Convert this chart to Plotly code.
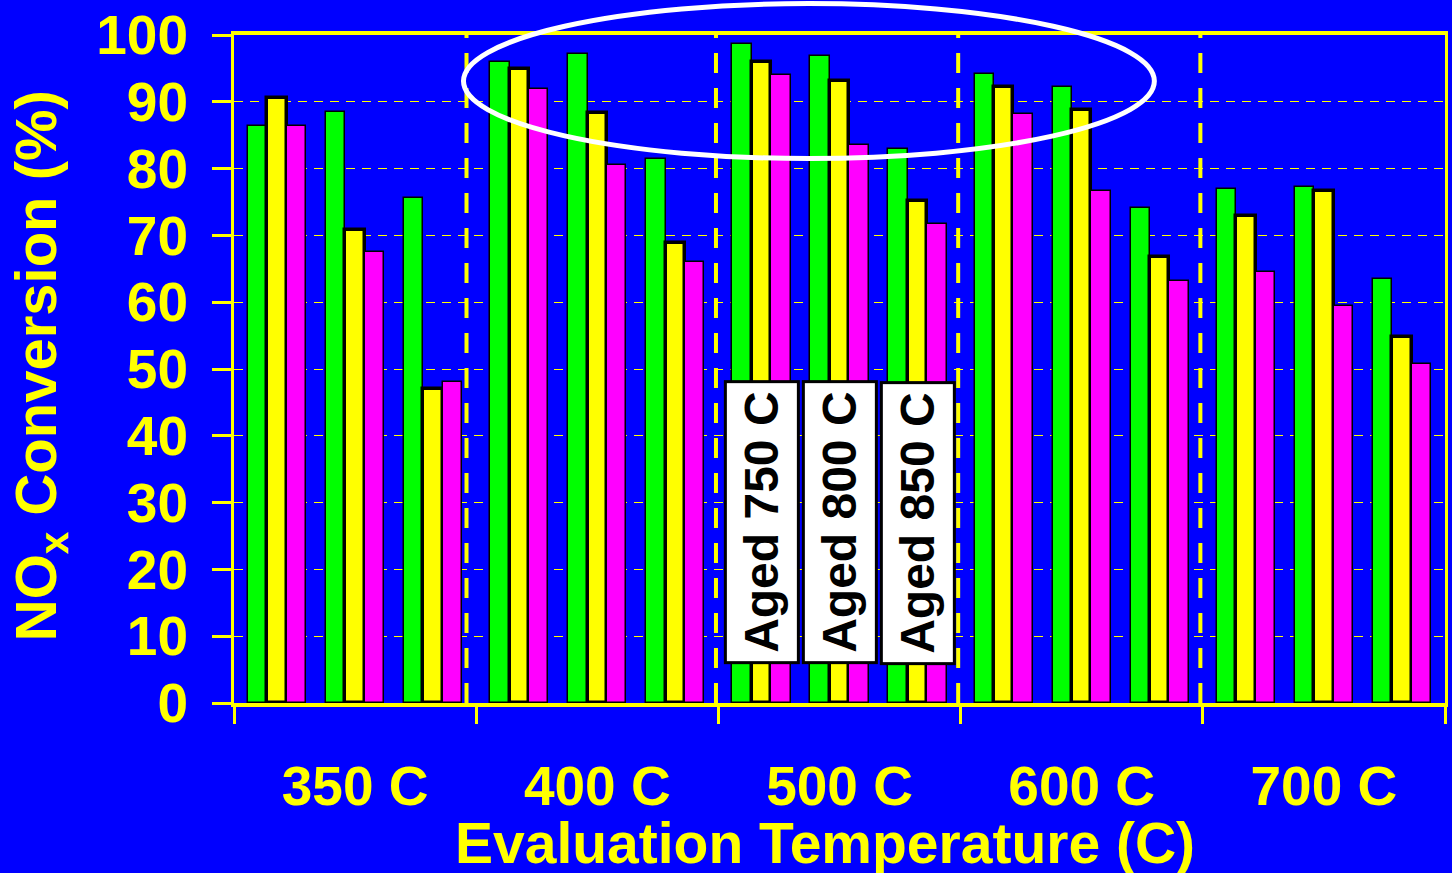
import plotly.graph_objects as go

# ---- data ----
temperatures = ["350 C", "400 C", "500 C", "600 C", "700 C"]
aging = ["Aged 750 C", "Aged 800 C", "Aged 850 C"]
# values ordered: for each evaluation temperature, aged 750 / 800 / 850
green_vals = [86.4, 88.5, 75.6,
              96.0, 97.1, 81.5,
              98.6, 96.9, 82.9,
              94.2, 92.2, 74.1,
              76.9, 77.2, 63.4]
yellow_vals = [90.5, 70.8, 47.0,
               94.9, 88.3, 68.9,
               96.0, 93.1, 75.2,
               92.2, 88.8, 66.8,
               72.9, 76.7, 54.8]
magenta_vals = [86.4, 67.5, 48.1,
                91.9, 80.6, 66.0,
                94.0, 83.5, 71.7,
                88.2, 76.7, 63.1,
                64.5, 59.4, 50.7]
y_ticks = list(range(0, 101, 10))
separators = [0.46, 1.49, 2.49, 3.49]
label_group = 2  # aging labels drawn over the 500 C group
x_title = "Evaluation Temperature (C)"
y_title = "NO<sub>x</sub> Conversion (%)"

# ---- layout constants ----
BLUE = "#0000FF"
YEL = "#FFFF00"
FONT = "Liberation Sans, Arial, sans-serif"
sub_off = 0.322
bar_w = 0.080

series = [
    ("green", "#00FF00", green_vals, -bar_w, 1.5),
    ("yellow", "#FFFF00", yellow_vals, 0.0, 3.5),
    ("magenta", "#FF00FF", magenta_vals, bar_w, 1.5),
]

fig = go.Figure()
for name, col, vals, coff, lw in series:
    xs = []
    for gi in range(len(temperatures)):
        for si in range(len(aging)):
            xs.append(gi + (si - 1) * sub_off + coff)
    fig.add_trace(go.Bar(
        x=xs, y=vals, width=bar_w, name=name,
        marker=dict(color=col, line=dict(color="black", width=lw)),
        showlegend=False, hoverinfo="y",
    ))

shapes = []
for s in separators:
    shapes.append(dict(type="line", xref="x", yref="paper", x0=s, x1=s, y0=0, y1=1,
                       line=dict(color=YEL, width=4, dash="20px,15px"), layer="above"))
shapes.append(dict(type="circle", xref="paper", yref="paper",
                   x0=0.1895, x1=0.7600, y0=0.815, y1=1.047,
                   line=dict(color="white", width=5), layer="above"))

annotations = []
for si, lab in enumerate(aging):
    annotations.append(dict(
        x=label_group + (si - 1) * sub_off, y=27, xref="x", yref="y",
        text=lab, showarrow=False, textangle=-90,
        font=dict(family=FONT, size=48, color="black", weight="bold"),
        bgcolor="white", bordercolor="black", borderwidth=3, borderpad=2,
        width=274, height=66,
    ))
# axis titles
annotations.append(dict(
    x=-0.160, y=0.5045, xref="paper", yref="paper", text=y_title,
    showarrow=False, textangle=-90, xanchor="center", yanchor="middle",
    font=dict(family=FONT, size=58, color=YEL, weight="bold"),
))
annotations.append(dict(
    x=(826 - 234) / 1214, y=-0.209, xref="paper", yref="paper", text=x_title,
    showarrow=False, xanchor="center", yanchor="middle",
    font=dict(family=FONT, size=57, color=YEL, weight="bold"),
))

fig.update_layout(
    width=1452, height=873,
    paper_bgcolor=BLUE, plot_bgcolor=BLUE,
    margin=dict(l=234, r=4, t=33, b=170),
    barmode="overlay", bargap=0,
    shapes=shapes, annotations=annotations,
    font=dict(family=FONT, color=YEL, weight="bold"),
)
fig.update_xaxes(
    range=[-0.5, len(temperatures) - 0.5],
    tickmode="array", tickvals=list(range(len(temperatures))), ticktext=temperatures,
    ticks="", showgrid=False, zeroline=False,
    showline=True, linecolor=YEL, linewidth=4, mirror=True,
    tickfont=dict(family=FONT, size=55, color=YEL, weight="bold"),
    ticklabelstandoff=32,
    minor=dict(tickmode="array", tickvals=[i - 0.5 for i in range(len(temperatures) + 1)],
               ticks="outside", ticklen=17, tickwidth=3, tickcolor=YEL, showgrid=False),
)
fig.update_yaxes(
    range=[0, 100], tickmode="array", tickvals=y_ticks,
    ticks="outside", ticklen=19, tickwidth=3, tickcolor=YEL,
    showline=True, linecolor=YEL, linewidth=3, mirror=True,
    showgrid=True, gridcolor=YEL, gridwidth=1, griddash="9px,7px", zeroline=False,
    tickfont=dict(family=FONT, size=55, color=YEL, weight="bold"),
    ticklabelstandoff=13,
)

fig.write_html("out.html")
